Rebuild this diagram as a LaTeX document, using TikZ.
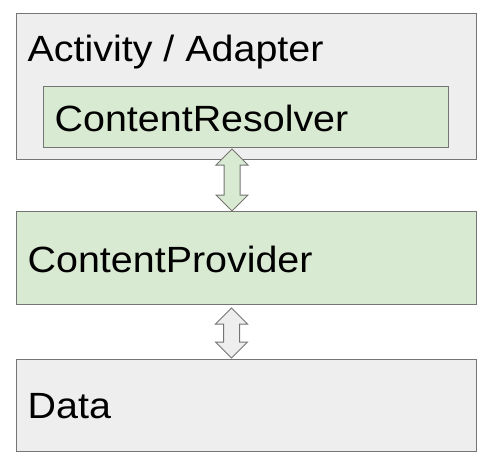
\documentclass[tikz,border=0pt]{standalone}
\usepackage{fontspec}
\setmainfont{Liberation Sans}[FakeStretch=1.08]
\usetikzlibrary{calc}
\definecolor{boxgray}{HTML}{EEEEEE}
\definecolor{boxgreen}{HTML}{D9EAD3}
\definecolor{edge}{HTML}{757575}
\tikzset{
  box/.style={draw=edge, line width=1pt, inner sep=0pt, anchor=north west},
  graybox/.style={box, fill=boxgray},
  greenbox/.style={box, fill=boxgreen},
  lbl/.style={inner sep=0pt, anchor=base west, font=\fontsize{36.5}{40}\selectfont},
  dbl/.style={draw=edge, line width=1pt, line join=miter},
}
\newcommand\dblarrow[3]{%
  \draw[dbl,#3] (#1) -- ($(#1)+(16,16)$) -- ($(#1)+(8,16)$) -- ($(#2)+(8,-16)$)
    -- ($(#2)+(16,-16)$) -- (#2) -- ($(#2)+(-16,-16)$) -- ($(#2)+(-8,-16)$)
    -- ($(#1)+(-8,16)$) -- ($(#1)+(-16,16)$) -- cycle;}
\begin{document}
\begin{tikzpicture}[x=1pt,y=-1pt]
\useasboundingbox (0,0) rectangle (489,460);
% boxes
\node[graybox, minimum width=460pt, minimum height=146pt] (act) at (15.5,13) {};
\node[greenbox, minimum width=405pt, minimum height=61pt] (res) at (43,86) {};
\node[greenbox, minimum width=460pt, minimum height=93pt] (prov) at (15.5,211) {};
\node[graybox, minimum width=460pt, minimum height=92pt] (data) at (15.5,359) {};
% labels
\node[lbl] (actl) at (27.5,61) {Activity / Adapter};
\node[lbl] (resl) at (54.5,131) {ContentResolver};
\node[lbl] (provl) at (27.5,272) {ContentProvider};
\node[lbl] (datal) at (27.5,418) {Data};
% arrows
\coordinate (a1t) at (232,149);
\coordinate (a1b) at (232,211);
\coordinate (a2t) at (231.5,308);
\coordinate (a2b) at (231.5,358);
\dblarrow{a1t}{a1b}{fill=boxgreen}
\dblarrow{a2t}{a2b}{fill=boxgray}
\end{tikzpicture}
\end{document}
